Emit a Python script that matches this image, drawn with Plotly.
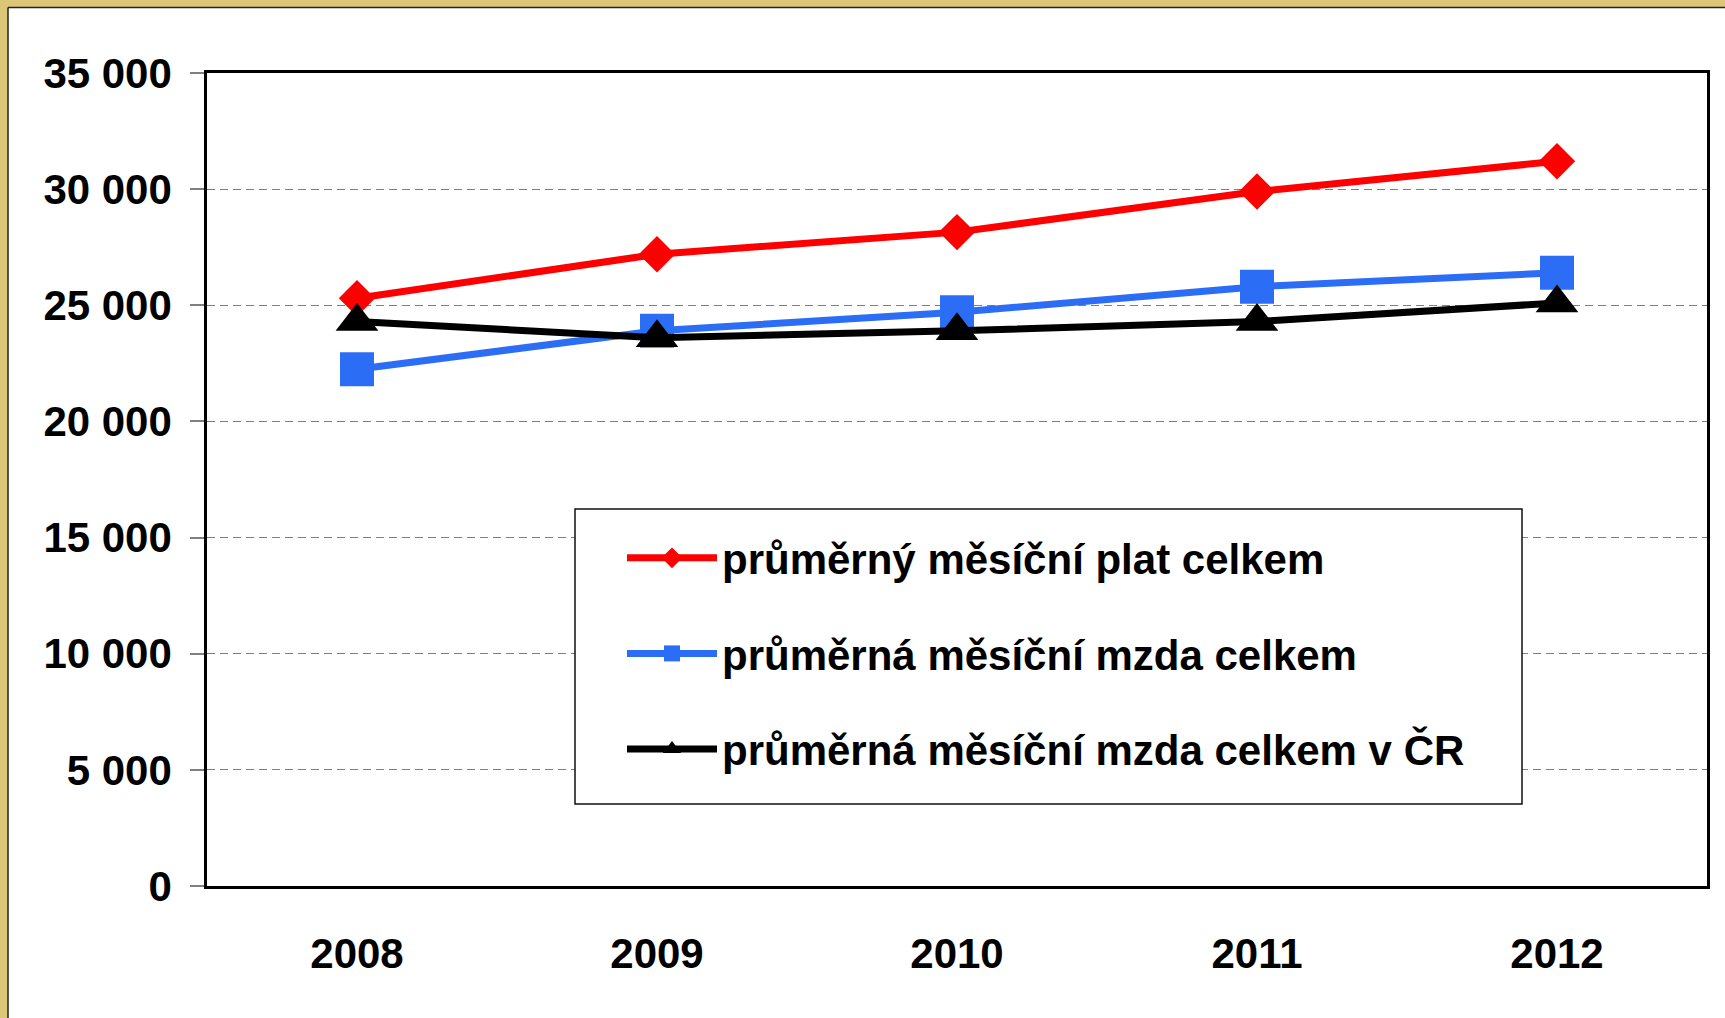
import plotly.graph_objects as go

years = ["2008", "2009", "2010", "2011", "2012"]
plat_celkem = [25300, 27200, 28150, 29900, 31200]
mzda_celkem = [22250, 23900, 24700, 25800, 26400]
mzda_cr = [24300, 23600, 23900, 24300, 25100]

series_names = [
    "průměrný měsíční plat celkem",
    "průměrná měsíční mzda celkem",
    "průměrná měsíční mzda celkem v ČR",
]

y_tickvals = [0, 5000, 10000, 15000, 20000, 25000, 30000, 35000]
y_ticktext = ["0", "5 000", "10 000", "15 000", "20 000", "25 000", "30 000", "35 000"]

W, H = 1725, 1018
L, R, T, B = 207, 18, 73, 132
pw, ph = W - L - R, H - T - B

def px_x(px):
    return (px - L) / pw

def px_y(py):
    return (H - B - py) / ph

FONT = "Arial, Liberation Sans, sans-serif"

fig = go.Figure()
styles = [
    dict(color="#FF0000", symbol="diamond", size=28),
    dict(color="#2B6EF5", symbol="square", size=34),
    dict(color="#000000", symbol="triangle-up", size=37),
]
for i, (name, vals, st) in enumerate(zip(series_names, [plat_celkem, mzda_celkem, mzda_cr], styles)):
    fig.add_trace(go.Scatter(
        x=years, y=vals, name=name, mode="lines+markers",
        legendgroup=f"g{i}",
        line=dict(color=st["color"], width=7),
        marker=dict(color=st["color"], symbol=st["symbol"], size=st["size"], line=dict(width=0)),
    ))

gold = "#DCC777"
# slide frame (gold strips with dark inner edge)
fig.add_shape(type="rect", xref="paper", yref="paper", layer="below",
              x0=px_x(0), x1=px_x(8), y0=px_y(H), y1=px_y(0),
              fillcolor=gold, line=dict(width=0))
fig.add_shape(type="rect", xref="paper", yref="paper", layer="below",
              x0=px_x(0), x1=px_x(W), y0=px_y(7), y1=px_y(0),
              fillcolor=gold, line=dict(width=0))
fig.add_shape(type="line", xref="paper", yref="paper", layer="below",
              x0=px_x(8), x1=px_x(8), y0=px_y(H), y1=px_y(7.5),
              line=dict(color="#222222", width=1.5))
fig.add_shape(type="line", xref="paper", yref="paper", layer="below",
              x0=px_x(8), x1=px_x(W), y0=px_y(7.5), y1=px_y(7.5),
              line=dict(color="#222222", width=1.5))
# legend frame
fig.add_shape(type="rect", xref="paper", yref="paper", layer="above",
              x0=px_x(575), x1=px_x(1522), y0=px_y(804), y1=px_y(509),
              fillcolor="white", line=dict(color="#111111", width=1.5))

fig.update_layout(
    width=W, height=H,
    margin=dict(l=L, r=R, t=T, b=B, pad=0),
    paper_bgcolor="white", plot_bgcolor="white",
    font=dict(family=FONT, size=42, color="black", weight="bold"),
    showlegend=True,
    legend=dict(
        x=px_x(622), y=px_y(524), xanchor="left", yanchor="top",
        bgcolor="rgba(0,0,0,0)", borderwidth=0,
        font=dict(family=FONT, size=42, color="black", weight="bold"),
        tracegroupgap=38, itemsizing="trace", itemwidth=90,
    ),
    xaxis=dict(
        type="category", categoryorder="array", categoryarray=years,
        range=[-0.5, 4.5], showgrid=False, zeroline=False,
        showline=True, linecolor="black", linewidth=2.5, mirror=True,
        ticks="", ticklabelstandoff=29,
        tickfont=dict(family=FONT, size=42, color="black", weight="bold"),
    ),
    yaxis=dict(
        range=[0, 35000], tickvals=y_tickvals, ticktext=y_ticktext,
        showgrid=True, gridcolor="#7F7F7F", gridwidth=1.2, griddash="8px,5px",
        zeroline=False, showline=True, linecolor="black", linewidth=2.5, mirror=True,
        ticks="outside", ticklen=14, tickcolor="#808080", tickwidth=2,
        ticklabelstandoff=10,
        tickfont=dict(family=FONT, size=42, color="black", weight="bold"),
    ),
)

fig.write_html("out.html", config={"displayModeBar": False},
               post_script="document.body.style.margin='0px';")
